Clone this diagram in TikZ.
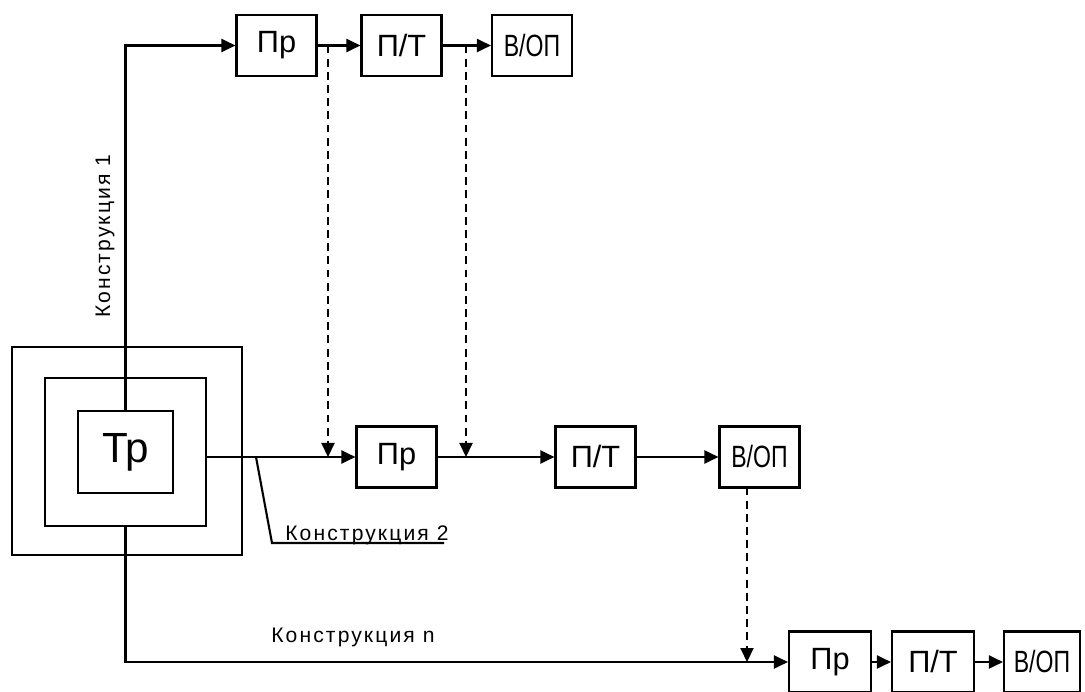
\documentclass[tikz,border=0pt]{standalone}
\usepackage{fontspec}
\setmainfont{Liberation Sans}
\newfontfamily\labelfont[LetterSpace=10]{Liberation Sans}
\usepackage{graphicx}
\usepackage{tikz}
\usetikzlibrary{positioning}
\usetikzlibrary{arrows.meta,calc}

\begin{document}
\begin{tikzpicture}
  [box/.style={draw=black,line width=1.2pt,minimum width=1.6cm,minimum height=1.22cm,inner sep=0pt,font=\fontsize{17.5}{20}\selectfont},
  frame/.style={draw=black,line width=1.2pt,inner sep=0pt},
  flow/.style={line width=1.2pt,-{Triangle[length=2.8mm,width=2.6mm]}},
  dashflow/.style={flow,dash pattern=on 4.5pt off 3pt},
  lbl/.style={font=\labelfont\fontsize{12}{14}\selectfont,inner sep=0pt}]
  \useasboundingbox (0,0) rectangle (21.7,13.82);

  \node[frame,minimum width=4.6cm,minimum height=4.16cm] (outer) at (2.54,4.8) {};
  \node[frame,minimum width=3.22cm,minimum height=2.96cm] (mid) at (2.51,4.78) {};
  \node[frame,minimum width=1.9cm,minimum height=1.64cm,font=\fontsize{24}{28}\selectfont] (tr) at (2.51,4.78) {Тр};

  \node[box] (pr1) at (5.53,12.91) {Пр};
  \node[box] (pt1) at (8.03,12.91) {П/Т};
  \node[box] (vop1) at (10.64,12.91) {\scalebox{0.75}[1]{В/ОП}};

  \node[box] (pr2) at (7.93,4.68) {Пр};
  \node[box] (pt2) at (11.91,4.68) {П/Т};
  \node[box] (vop2) at (15.19,4.68) {\scalebox{0.75}[1]{В/ОП}};

  \node[box,minimum width=1.64cm] (pr3) at (16.6,0.58) {Пр};
  \node[box,minimum width=1.64cm] (pt3) at (18.66,0.58) {П/Т};
  \node[box,minimum width=1.52cm] (vop3) at (20.84,0.58) {\scalebox{0.75}[1]{В/ОП}};

  \coordinate (d1) at (6.56,12.91);
  \coordinate (d2) at (9.32,12.91);
  \coordinate (d3) at (14.94,4.07);
  \coordinate (lead1) at (5.12,4.68);
  \coordinate (lead2) at (5.44,2.96);
  \coordinate (lead3) at (8.88,2.96);

  \draw [flow] (tr.north) |- (pr1.west);
  \draw [flow] (pr1) -- (pt1);
  \draw [flow] (pt1) -- (vop1);

  \draw [flow] (mid.east |- pr2) -- (pr2.west);
  \draw [flow] (pr2) -- (pt2);
  \draw [flow] (pt2) -- (vop2);

  \draw [flow] (mid.south) |- (pr3.west);
  \draw [flow] (pr3) -- (pt3);
  \draw [flow] (pt3) -- (vop3);

  \draw [dashflow] (d1) -- (d1 |- pr2);
  \draw [dashflow] (d2) -- (d2 |- pr2);
  \draw [dashflow] (d3) -- (d3 |- pr3);

  \draw [line width=1.2pt] (lead1) -- (lead2) -- (lead3);

  \node[lbl,rotate=90,anchor=base west] (k1) at (2.2,7.46) {Конструкция 1};
  \node[lbl,anchor=base west] (k2) at (5.7,3.02) {Конструкция 2};
  \node[lbl,anchor=base west] (kn) at (5.42,0.98) {Конструкция n};

\end{tikzpicture}
\end{document}
